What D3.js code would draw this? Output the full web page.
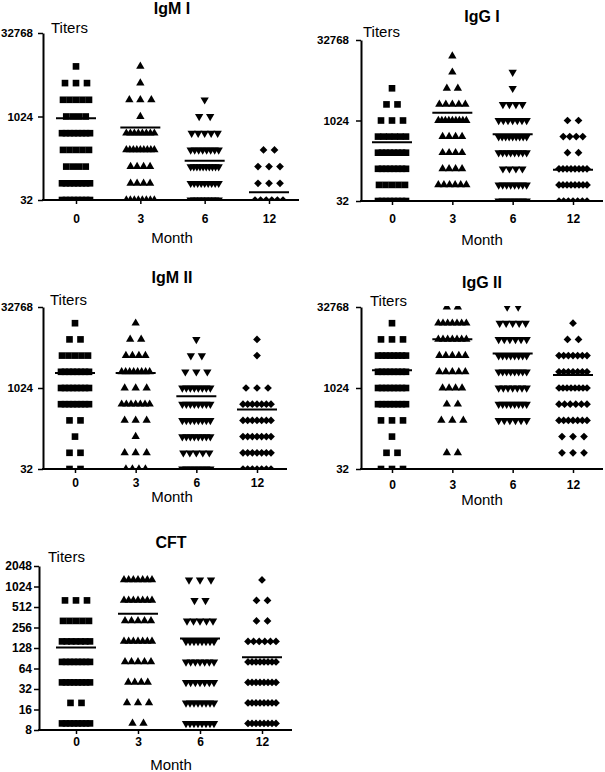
<!DOCTYPE html>
<html><head><meta charset="utf-8">
<script src="https://cdn.jsdelivr.net/npm/d3@7"></script>
<style>
body{margin:0;background:#fff;}
svg{display:block;font-family:"Liberation Sans",Arial,sans-serif;}
</style></head><body>
<svg id="c" width="605" height="772"></svg>
<script>
// ---------- data ----------
const months = ["0","3","6","12"];
const igLevels = [32,64,128,256,512,1024,2048,4096,8192,16384,32768];
const cftLevels = [10,20,40,80,160,320,640,1280];
const igTicks = [32,1024,32768];
const cftTicks = [8,16,32,64,128,256,512,1024,2048];

// number of subjects at each titer level (aligned with level arrays), one list per month
const igmICounts = [
  [8,8,4,5,8,4,5,3,1,0,0],
  [8,4,4,9,8,1,3,1,1,0,0],
  [9,9,10,8,5,2,1,0,0,0,0],
  [6,3,3,2,0,0,0,0,0,0,0]
];
const igmIMeans = [955,647,164,44];

const iggICounts = [
  [8,5,8,8,6,3,2,1,0,0,0],
  [0,6,4,4,4,9,5,2,1,1,0],
  [8,8,4,8,9,7,4,1,1,0,0],
  [7,8,8,2,4,2,0,0,0,0,0]
];
const iggIMeans = [402,1427,568,123];

const igmIICounts = [
  [2,2,1,2,8,8,8,5,2,1,0],
  [4,3,1,3,7,3,8,4,2,1,0],
  [8,5,8,8,8,8,3,2,1,0,0],
  [7,7,7,7,7,3,0,1,1,0,0]
];
const igmIIMeans = [1937,1950,718,407];

const iggIICounts = [
  [3,2,1,3,8,8,8,8,3,1,0],
  [0,2,0,3,2,4,5,5,7,7,2],
  [0,0,0,6,8,7,8,8,6,5,2],
  [0,3,3,7,6,8,7,7,2,1,0]
];
const iggIIMeans = [2200,8250,4480,1780];

const cftCounts = [
  [8,2,8,8,7,5,3,0],
  [2,3,4,5,7,5,7,7],
  [8,8,7,7,8,5,2,3],
  [8,8,8,8,6,2,2,1]
];
const cftMeans = [130,408,177,94];

// ---------- layout ----------
const panels = [
  {title:"IgM I", levels:igLevels, counts:igmICounts, means:igmIMeans, ticks:igTicks, domain:[32,32768],
   cx:172, titleY:14, ax:43, top:33, bottom:200, first:76, last:269, end:299, titersX:51, titersY:33, xLabY:223, monthY:243, yPad:5},
  {title:"IgG I", levels:igLevels, counts:iggICounts, means:iggIMeans, ticks:igTicks, domain:[32,32768],
   cx:482, titleY:22, ax:361, top:40, bottom:201, first:392, last:573, end:603, titersX:363, titersY:37, xLabY:223, monthY:245, yPad:7},
  {title:"IgM II", levels:igLevels, counts:igmIICounts, means:igmIIMeans, ticks:igTicks, domain:[32,32768],
   cx:172, titleY:283, ax:43, top:307, bottom:469, first:75, last:257, end:287, titersX:50, titersY:305, xLabY:487, monthY:502, yPad:5},
  {title:"IgG II", levels:igLevels, counts:iggIICounts, means:iggIIMeans, ticks:igTicks, domain:[32,32768],
   cx:482, titleY:288, ax:361, top:307, bottom:469, first:392, last:573, end:603, titersX:370, titersY:306, xLabY:489, monthY:505, yPad:7},
  {title:"CFT", levels:cftLevels, counts:cftCounts, means:cftMeans, ticks:cftTicks, domain:[8,2048],
   cx:171, titleY:548, ax:39, top:566, bottom:730, first:76, last:262, end:292, titersX:48, titersY:562, xLabY:746, monthY:770, yPad:2}
];

const svg = d3.select("#c");
const symType = [
  {type:d3.symbolSquare, size:44, rot:0},
  {type:d3.symbolTriangle, size:30, rot:0},
  {type:d3.symbolTriangle, size:30, rot:180},
  {type:d3.symbolSquare, size:30, rot:45}
];
function spacing(n){ return n<=3 ? 11 : Math.min(6.5, 28/(n-1)); }

panels.forEach((p,pi)=>{
  const g = svg.append("g");
  const y = d3.scaleLog().base(2).domain(p.domain).range([p.bottom,p.top]);
  const x = d3.scalePoint().domain(months).range([p.first,p.last]);

  const clipId = "clip"+pi;
  svg.append("clipPath").attr("id",clipId).append("rect")
    .attr("x",p.ax).attr("y",p.top-1).attr("width",p.end-p.ax).attr("height",p.bottom-p.top+1);

  // points
  const pts = [];
  p.counts.forEach((row,mi)=>{
    row.forEach((n,li)=>{
      const s = spacing(n);
      for(let i=0;i<n;i++){
        pts.push({m:mi, x:x(months[mi]) + (i-(n-1)/2)*s, v:p.levels[li]});
      }
    });
  });
  const pg = g.append("g").attr("clip-path",`url(#${clipId})`);
  pg.selectAll("path").data(pts).join("path")
    .attr("d", d=>d3.symbol(symType[d.m].type, symType[d.m].size)())
    .attr("transform", d=>`translate(${d.x},${y(d.v)}) rotate(${symType[d.m].rot})`)
    .attr("fill","#000");

  // mean lines
  g.selectAll("line.mean").data(p.means).join("line").attr("class","mean")
    .attr("x1",(d,i)=>x(months[i])-20).attr("x2",(d,i)=>x(months[i])+20)
    .attr("y1",d=>y(d)).attr("y2",d=>y(d))
    .attr("stroke","#000").attr("stroke-width",2);

  // y axis
  const ya = g.append("g").attr("transform",`translate(${p.ax},0)`)
    .call(d3.axisLeft(y).tickValues(p.ticks).tickFormat(d3.format("d")).tickSize(5).tickSizeOuter(0).tickPadding(p.yPad));
  ya.select(".domain").attr("stroke-width",2);
  ya.selectAll(".tick line").attr("stroke-width",1.5);
  ya.selectAll(".tick text").attr("font-size", pi===4?12:11.5).attr("font-weight","bold")
    .attr("font-family","'Liberation Sans',Arial,sans-serif").attr("fill","#000");

  // x axis
  const xa = g.append("g").attr("transform",`translate(0,${p.bottom})`)
    .call(d3.axisBottom(x).tickSize(4).tickSizeOuter(0));
  xa.select(".domain").remove();
  xa.selectAll(".tick line").attr("stroke-width",1.5);
  xa.selectAll(".tick text").attr("y",p.xLabY-p.bottom).attr("dy",0)
    .attr("font-size",12).attr("font-weight","bold")
    .attr("font-family","'Liberation Sans',Arial,sans-serif").attr("fill","#000");
  g.append("line").attr("x1",p.ax-1).attr("x2",p.end).attr("y1",p.bottom).attr("y2",p.bottom)
    .attr("stroke","#000").attr("stroke-width",2);

  // texts
  g.append("text").attr("x",p.cx).attr("y",p.titleY).attr("text-anchor","middle")
    .attr("font-size",16).attr("font-weight","bold").text(p.title);
  g.append("text").attr("x",p.titersX).attr("y",p.titersY)
    .attr("font-size",15).text("Titers");
  g.append("text").attr("x",p.cx).attr("y",p.monthY).attr("text-anchor","middle")
    .attr("font-size",15).text("Month");
});
</script>
</body></html>
